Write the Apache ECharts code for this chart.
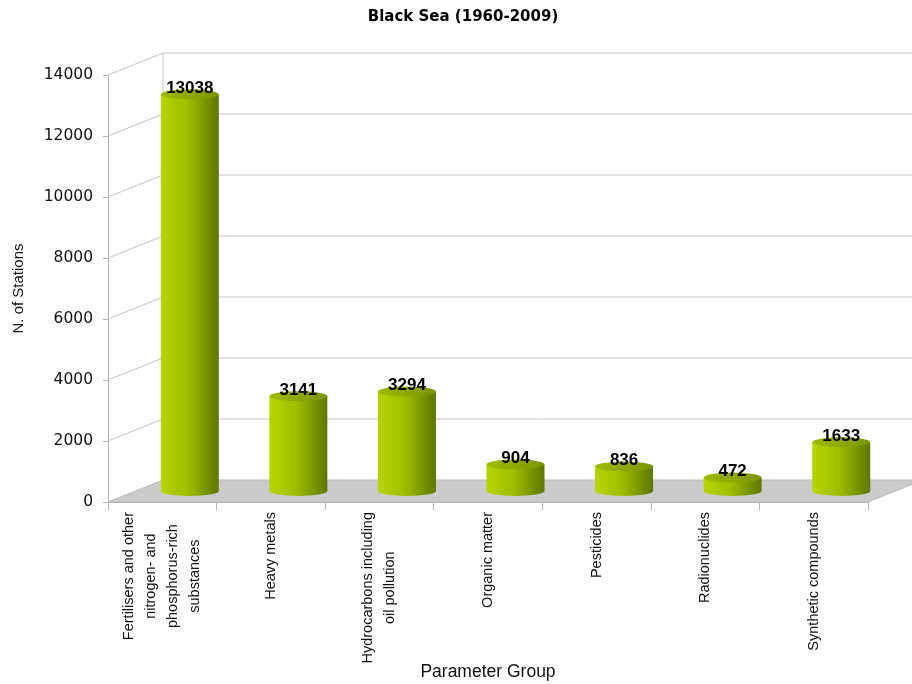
<!DOCTYPE html>
<html><head><meta charset="utf-8">
<script src="https://cdn.jsdelivr.net/npm/echarts@6/dist/echarts.min.js"></script>
<style>html,body{margin:0;padding:0;background:#fff}#c{width:912px;height:684px}</style>
</head><body><div id="c"></div>
<script>
const categories = ['Fertilisers and other\nnitrogen- and\nphosphorus-rich\nsubstances','Heavy metals','Hydrocarbons including\noil pollution','Organic matter','Pesticides','Radionuclides','Synthetic compounds'];
const stations = [13038, 3141, 3294, 904, 836, 472, 1633];
const yTicks = [0, 2000, 4000, 6000, 8000, 10000, 12000, 14000];

const DX = 55, DY = 22;
const RX = 29, RY = 5, LIFT = 10;
const FONT = '"Liberation Sans", Arial, sans-serif';
const DEJA = '"DejaVu Sans", "Liberation Sans", sans-serif';
const chart = echarts.init(document.getElementById('c'));

function frameItem(params, api) {
  const cs = params.coordSys;
  const y = api.coord([0, api.value(0)])[1];
  const x0 = cs.x;
  return {type: 'polyline', silent: true,
    shape: {points: [[x0, y], [x0 + DX, y - DY], [912, y - DY]]},
    style: {stroke: '#c6c6c6', lineWidth: 1, fill: null}};
}
function floorItem(params, api) {
  const cs = params.coordSys;
  const y = api.coord([0, 0])[1];
  const yTop = api.coord([0, yTicks[yTicks.length - 1]])[1];
  const xl = cs.x, xr = cs.x + cs.width;
  return {type: 'group', silent: true, children: [
    {type: 'polygon', shape: {points: [[xl, y], [xr, y], [xr + DX, y - DY], [xl + DX, y - DY]]},
      style: {fill: '#cbcbcb', stroke: '#bcbcbc', lineWidth: 1}},
    {type: 'line', shape: {x1: xl + DX, y1: y - DY, x2: xl + DX, y2: yTop - DY},
      style: {stroke: '#c6c6c6', lineWidth: 1}}
  ]};
}
function cylItem(params, api) {
  const idx = api.value(0), v = api.value(1);
  const base = api.coord([idx, 0]);
  const top = api.coord([idx, v]);
  const cx = base[0] + DX / 2;
  const yb = base[1] - LIFT - 1, yt = top[1] - LIFT;
  const x1 = cx - RX, x2 = cx + RX;
  const body = `M ${x1} ${yt} L ${x1} ${yb} A ${RX} ${RY} 0 0 0 ${x2} ${yb} L ${x2} ${yt} Z`;
  const cap = `M ${x1} ${yt} A ${RX} ${RY} 0 1 0 ${x2} ${yt} A ${RX} ${RY} 0 1 0 ${x1} ${yt} Z`;
  return {type: 'group', children: [
    {type: 'path', shape: {pathData: body},
      style: {fill: new echarts.graphic.LinearGradient(0, 0, 1, 0, [
        {offset: 0, color: '#b6d400'}, {offset: 0.45, color: '#a0bf00'}, {offset: 1, color: '#5d7700'}])}},
    {type: 'path', shape: {pathData: cap},
      style: {fill: new echarts.graphic.LinearGradient(0, 0, 1, 0, [
        {offset: 0, color: '#9dbb00'}, {offset: 1, color: '#7a9500'}])}},
    {type: 'text', style: {text: String(v), x: cx, y: yt - 6, align: 'center', verticalAlign: 'middle',
      font: 'bold 17px ' + FONT, fill: '#000'}}
  ]};
}

const option = {
  animation: false,
  backgroundColor: '#fff',
  graphic: [{type: 'text', x: 463, y: 17, style: {text: 'Black Sea (1960-2009)', align: 'center', verticalAlign: 'middle',
    font: 'bold 15px ' + DEJA, fill: '#000'}}],
  grid: {left: 108, right: 44, top: 75, bottom: 182, containLabel: false, outerBoundsMode: 'none'},
  xAxis: {
    type: 'category', data: categories, boundaryGap: true,
    name: 'Parameter Group', nameLocation: 'middle', nameGap: 161, nameMoveOverlap: false,
    nameTextStyle: {fontSize: 17.5, color: '#111', fontFamily: FONT},
    axisLine: {lineStyle: {color: '#b4b4b4'}},
    axisTick: {show: true, interval: 0, length: 8, lineStyle: {color: '#b4b4b4'}},
    axisLabel: {interval: 0, rotate: 90, margin: 10,
      formatter: v => v.split('\n').map(l => '{c|' + l + '}').join('\n'),
      rich: {c: {align: 'center', fontSize: 14.5, color: '#111', fontFamily: FONT, lineHeight: 22}}}
  },
  yAxis: {
    type: 'value', min: 0, max: 14000, interval: 2000,
    name: 'N. of Stations', nameLocation: 'middle', nameRotate: 90, nameGap: 82, nameMoveOverlap: false,
    nameTextStyle: {fontSize: 15, color: '#111', fontFamily: FONT},
    axisLine: {show: true, lineStyle: {color: '#b4b4b4'}},
    axisTick: {show: true, length: 5, lineStyle: {color: '#b4b4b4'}},
    axisLabel: {margin: 15, fontSize: 15.5, color: '#111', fontFamily: DEJA,
      formatter: v => String(v)},
    splitLine: {show: false}
  },
  series: [
    {type: 'custom', name: 'floor', z: 1, renderItem: floorItem, data: [[0]], silent: true},
    {type: 'custom', name: 'grid', z: 1, renderItem: frameItem, data: yTicks.slice(1).map(t => [t]), silent: true},
    {type: 'custom', name: 'N. of Stations', z: 3, renderItem: cylItem,
      encode: {x: 0, y: 1}, data: stations.map((v, i) => [i, v])}
  ]
};
chart.setOption(option);
</script></body></html>
